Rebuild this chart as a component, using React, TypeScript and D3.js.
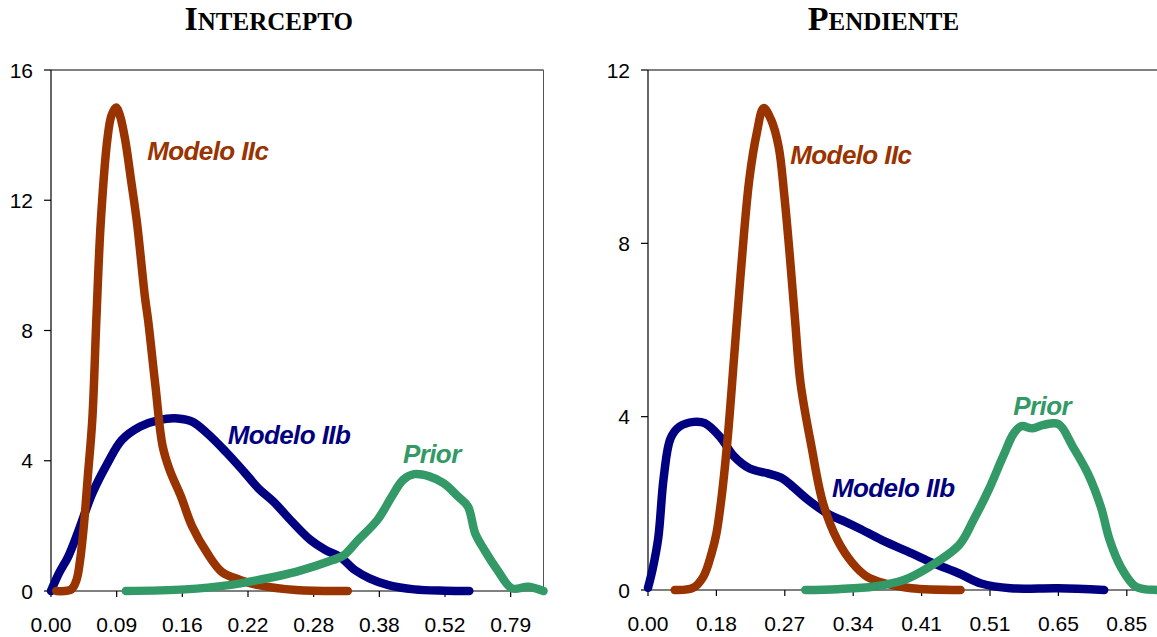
import React from "react";
import * as d3 from "d3";

// ---------- data (x = category position, 10 categories per tick label) ----------
const interceptTicks = ["0.00", "0.09", "0.16", "0.22", "0.28", "0.38", "0.52", "0.79"];
const slopeTicks = ["0.00", "0.18", "0.27", "0.34", "0.41", "0.51", "0.65", "0.85"];
const interceptYTicks = [0, 4, 8, 12, 16];
const slopeYTicks = [0, 4, 8, 12];

const interceptIIb: [number, number][] = [
  [0, 0], [1.2, 0.54], [2.6, 1.05], [4.1, 1.8], [6.3, 3.0], [8.6, 3.92], [10.8, 4.64],
  [13.6, 5.05], [16.4, 5.25], [19.3, 5.3], [21.5, 5.2], [23.8, 4.84], [26.6, 4.28],
  [29.4, 3.66], [31.6, 3.15], [33.9, 2.74], [36.7, 2.13], [39.5, 1.57], [41.8, 1.26],
  [44, 1.05], [46.3, 0.64], [48.5, 0.39], [51.4, 0.18], [55.3, 0.05], [60, 0.01], [63.7, 0],
];
const interceptIIc: [number, number][] = [
  [0.8, 0], [3.1, 0.05], [3.9, 0.35], [4.4, 0.9], [5.0, 2.0], [5.6, 3.5], [6.3, 5.3],
  [6.9, 8.3], [7.6, 11.4], [8.6, 13.9], [9.2, 14.6], [9.9, 14.85], [10.5, 14.6],
  [11.3, 13.85], [12.2, 12.6], [13.1, 11.3], [14.3, 9.04], [14.8, 8.3], [15.9, 6.3], [17, 4.45],
  [18.1, 3.7], [19.8, 2.9], [21.5, 1.98], [23.8, 1.16], [26, 0.59], [28.8, 0.34],
  [31.6, 0.18], [37.3, 0.03], [45.2, 0],
];
const interceptPrior: [number, number][] = [
  [11.4, 0], [20.4, 0.05], [27.1, 0.18], [31.6, 0.34], [37.3, 0.59], [42.9, 0.95],
  [44.6, 1.1], [46.8, 1.57], [49.7, 2.18], [51.9, 2.9], [53.6, 3.41], [55.3, 3.59],
  [57.5, 3.53], [59.8, 3.31], [62, 2.9], [63.5, 2.59], [64.6, 1.77], [66, 1.26],
  [68, 0.64], [70.2, 0.08], [72.7, 0.13], [75, 0],
];

const slopeIIb: [number, number][] = [
  [0, 0.05], [0.7, 0.5], [1.5, 1.2], [2.3, 2.6], [3.3, 3.5], [4.6, 3.77], [6.7, 3.88],
  [8.3, 3.85], [10.5, 3.54], [12.6, 3.08], [14.8, 2.81], [17.5, 2.69], [19.6, 2.58],
  [21.2, 2.38], [23.4, 2.08], [26.6, 1.73], [28.8, 1.58], [30.9, 1.42], [34.2, 1.15],
  [38.5, 0.85], [41.7, 0.62], [45.5, 0.38], [48.7, 0.15], [53, 0.04], [60, 0.04], [66.7, 0],
];
const slopeIIc: [number, number][] = [
  [3.9, 0], [6.6, 0.05], [8.1, 0.31], [9.3, 0.85], [10.0, 1.3], [10.8, 2.2], [11.7, 3.6],
  [12.6, 5.4], [13.5, 7.2], [14.8, 9.46], [15.9, 10.54], [16.9, 11.12], [18, 10.85],
  [19.1, 10.23], [19.9, 9.15], [20.7, 7.77], [21.5, 6.23], [22.3, 4.77], [23.9, 3.31],
  [25.6, 2.0], [27.7, 1.15], [29.9, 0.62], [32, 0.31], [34.7, 0.15], [38.5, 0.04], [45.7, 0],
];
const slopePrior: [number, number][] = [
  [23, 0], [27.7, 0.02], [33.1, 0.08], [37.4, 0.23], [41.2, 0.54], [45.5, 1.04],
  [47.6, 1.62], [49.8, 2.31], [51.9, 3.08], [53.5, 3.62], [54.6, 3.78], [56.2, 3.73],
  [57.8, 3.81], [60, 3.83], [62.1, 3.31], [64.3, 2.69], [66.2, 1.92], [67.5, 1.15],
  [69.1, 0.54], [71.3, 0.08], [74.4, 0], [75, 0],
];

const seriesNames = ["Modelo IIb", "Modelo IIc", "Prior"];
const seriesColors = ["#000080", "#993300", "#339966"];

// label anchors, in data units
const interceptLabelPos: [number, number][] = [[26.9, 4.5], [14.65, 13.24], [53.6, 3.92]];
const slopeLabelPos: [number, number][] = [[26.9, 2.15], [20.8, 9.83], [53.4, 4.05]];

type Panel = {
  titleFirst: string;
  titleRest: string;
  titleX: number;
  left: number;
  right: number;
  bottom: number;
  top: number;
  yMax: number;
  yTicks: number[];
  xTicks: string[];
  series: [number, number][][];
  labels: [number, number][];
};

const panels: Panel[] = [
  {
    titleFirst: "I", titleRest: "NTERCEPTO", titleX: 268.7,
    left: 51, right: 543.5, bottom: 591, top: 70, yMax: 16,
    yTicks: interceptYTicks, xTicks: interceptTicks,
    series: [interceptIIb, interceptIIc, interceptPrior], labels: interceptLabelPos,
  },
  {
    titleFirst: "P", titleRest: "ENDIENTE", titleX: 883.4,
    left: 648, right: 1161, bottom: 590, top: 70, yMax: 12,
    yTicks: slopeYTicks, xTicks: slopeTicks,
    series: [slopeIIb, slopeIIc, slopePrior], labels: slopeLabelPos,
  },
];

const sans = "'Liberation Sans', Arial, sans-serif";

function PanelView({ p }: { p: Panel }) {
  const x = d3.scaleLinear().domain([0, 75]).range([p.left, p.right]);
  const y = d3.scaleLinear().domain([0, p.yMax]).range([p.bottom, p.top]);
  const line = d3
    .line<[number, number]>()
    .x((d) => x(d[0]))
    .y((d) => y(d[1]))
    .curve(d3.curveCatmullRom.alpha(0.5));
  return (
    <g>
      <text
        x={p.titleX}
        y={30}
        textAnchor="middle"
        fontFamily="'Liberation Serif', 'Times New Roman', serif"
        fontWeight="bold"
        fill="#000"
      >
        <tspan fontSize={34}>{p.titleFirst}</tspan>
        <tspan fontSize={25}>{p.titleRest}</tspan>
      </text>
      {/* plot frame */}
      <line x1={p.left} x2={p.right} y1={p.top} y2={p.top} stroke="#808080" strokeWidth={2} />
      <line x1={p.right} x2={p.right} y1={p.top} y2={p.bottom} stroke="#555" strokeWidth={1} />
      {/* y axis */}
      <line x1={p.left} x2={p.left} y1={p.top} y2={p.bottom} stroke="#000" strokeWidth={1.2} />
      {p.yTicks.map((t) => (
        <g key={"y" + t}>
          <line x1={p.left - 7} x2={p.left} y1={y(t)} y2={y(t)} stroke="#000" strokeWidth={1.2} />
          <text
            x={p.left - 18}
            y={y(t)}
            dy="0.36em"
            textAnchor="end"
            fontFamily={sans}
            fontSize={21}
            fill="#000"
          >
            {t}
          </text>
        </g>
      ))}
      {/* x axis */}
      <line x1={p.left} x2={p.right} y1={p.bottom} y2={p.bottom} stroke="#000" strokeWidth={1.2} />
      {p.xTicks.map((t, i) => (
        <g key={"x" + i}>
          <line x1={x(i * 10)} x2={x(i * 10)} y1={p.bottom} y2={p.bottom + 6} stroke="#000" strokeWidth={1.2} />
          <text
            x={x(i * 10)}
            y={p.bottom + 41}
            textAnchor="middle"
            fontFamily={sans}
            fontSize={21}
            fill="#000"
          >
            {t}
          </text>
        </g>
      ))}
      {p.series.map((s, i) => (
        <path
          key={"s" + i}
          d={line(s) || ""}
          fill="none"
          stroke={seriesColors[i]}
          strokeWidth={8.5}
          strokeLinecap="round"
          strokeLinejoin="round"
        />
      ))}
      {p.labels.map((l, i) => (
        <text
          key={"l" + i}
          x={x(l[0])}
          y={y(l[1])}
          fontFamily={sans}
          fontWeight="bold"
          fontStyle="italic"
          fontSize={26}
          letterSpacing={-0.6}
          fill={seriesColors[i]}
        >
          {seriesNames[i]}
        </text>
      ))}
    </g>
  );
}

export default function App() {
  return (
    <div style={{ position: "absolute", left: 0, top: 0, width: 1157, height: 637, background: "#fff" }}>
      <svg width={1157} height={637} viewBox="0 0 1157 637" style={{ display: "block" }}>
        <rect x={0} y={0} width={1157} height={637} fill="#fff" />
        {panels.map((p, i) => (
          <PanelView key={i} p={p} />
        ))}
      </svg>
    </div>
  );
}
